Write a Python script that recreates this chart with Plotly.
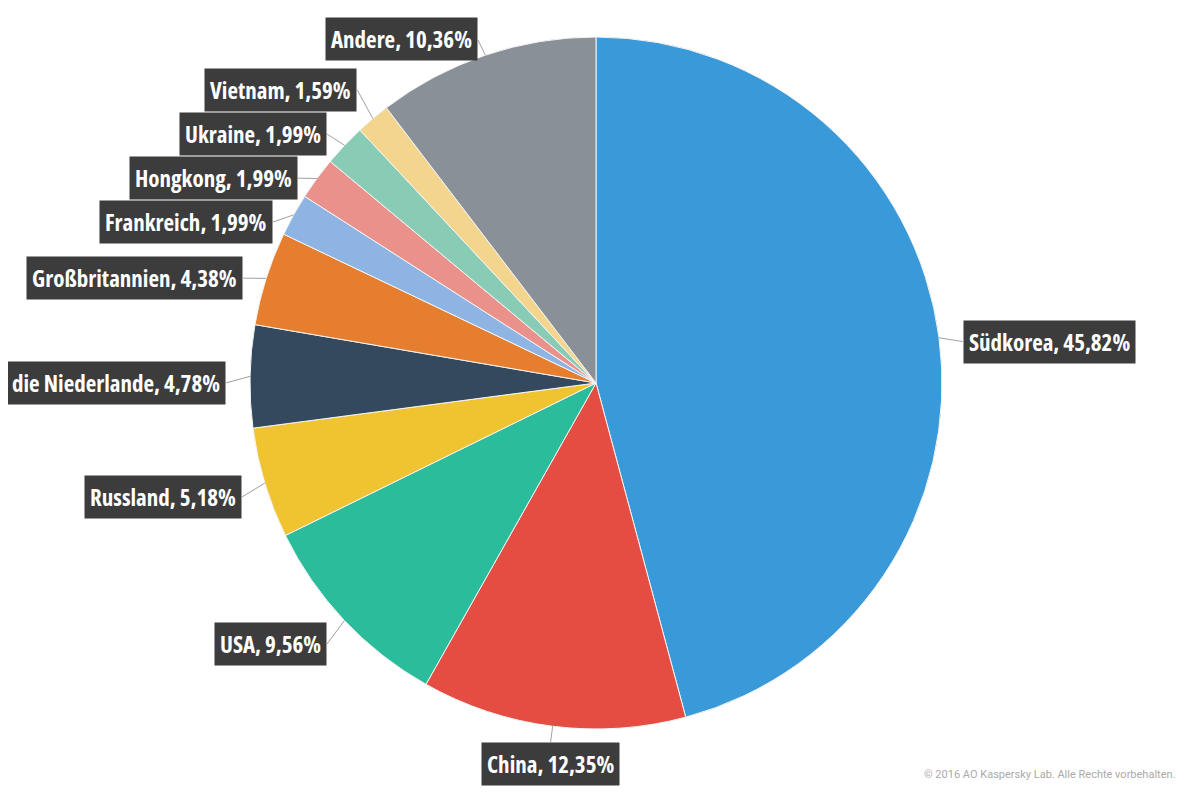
import math
import plotly.graph_objects as go

countries = ["Südkorea", "China", "USA", "Russland", "die Niederlande", "Großbritannien",
             "Frankreich", "Hongkong", "Ukraine", "Vietnam", "Andere"]
shares = [45.82, 12.35, 9.56, 5.18, 4.78, 4.38, 1.99, 1.99, 1.99, 1.59, 10.36]
share_text = ["45,82%", "12,35%", "9,56%", "5,18%", "4,78%", "4,38%",
              "1,99%", "1,99%", "1,99%", "1,59%", "10,36%"]
colors = ["#3a99d9", "#e54d42", "#2bbc9c", "#f0c330", "#34495e", "#e67e30",
          "#8db4e2", "#ea918c", "#88ccb6", "#f4d58d", "#899098"]

# page has 8px body margin, so the figure is drawn 8px in and kept smaller
W, H = 1184, 788
ml, mr, mt, mb = 0, 8, 29, 67
pw, ph = W - ml - mr, H - mt - mb
R = ph / 2
cx, cy = ml + pw / 2, mt + ph / 2   # pie centre in figure pixels

label_font = dict(family="Open Sans", size=23, color="white", weight="bold")

fig = go.Figure(go.Pie(
    labels=countries, values=shares, sort=False, direction="clockwise",
    marker=dict(colors=colors, line=dict(color="#f4f4f4", width=1)),
    textinfo="none", hoverinfo="label+percent", showlegend=False,
))

# label placement from slice mid-angles, left column spread apart
total = sum(shares)
cum = 0
items = []
for name, v, t in zip(countries, shares, share_text):
    mid = (cum + v / 2) / total * 2 * math.pi
    cum += v
    s, c = math.sin(mid), math.cos(mid)
    tip = (cx + R * s, cy - R * c)
    if abs(s) < 0.3:
        xa, ya = "center", ("top" if c < 0 else "bottom")
        pos = [cx + (R + 16) * s, cy - (R + 16) * c]
    else:
        xa, ya = ("left" if s > 0 else "right"), "middle"
        pos = [cx + (R + 24) * s, cy - (R + 24) * c + 7]
    items.append(dict(text=f"{name}, {t}", tip=tip, pos=pos, xa=xa, ya=ya, left=(s < 0 and ya == "middle")))

left = sorted([it for it in items if it["left"]], key=lambda it: it["pos"][1])
gap = 44
for _ in range(200):
    for a, b in zip(left, left[1:]):
        d = b["pos"][1] - a["pos"][1]
        if d < gap:
            a["pos"][1] -= (gap - d) / 2
            b["pos"][1] += (gap - d) / 2

for it in items:
    tx, ty = it["tip"]
    lx, ly = it["pos"]
    fig.add_annotation(
        x=(tx - ml) / pw, y=1 - (ty - mt) / ph, xref="paper", yref="paper",
        ax=lx - tx, ay=ly - ty, showarrow=True, arrowhead=0, arrowwidth=1,
        arrowcolor="#a0a0a0", standoff=0, startstandoff=0,
        text=f"<span style='font-stretch:75%'>{it['text']}</span>",
        xanchor=it["xa"], yanchor=it["ya"],
        font=label_font, bgcolor="#3c3c3c", borderpad=5,
    )

fig.add_annotation(
    x=(1178 - 8 - ml) / pw, y=(729 - 774) / ph, xref="paper", yref="paper", showarrow=False,
    text="© 2016 AO Kaspersky Lab. Alle Rechte vorbehalten.",
    xanchor="right", yanchor="middle",
    font=dict(family="Roboto", size=11, color="#aaaaaa"),
)

fig.update_layout(
    width=W, height=H, margin=dict(l=ml, r=mr, t=mt, b=mb),
    paper_bgcolor="white", plot_bgcolor="white",
)

fig.write_html("out.html")
